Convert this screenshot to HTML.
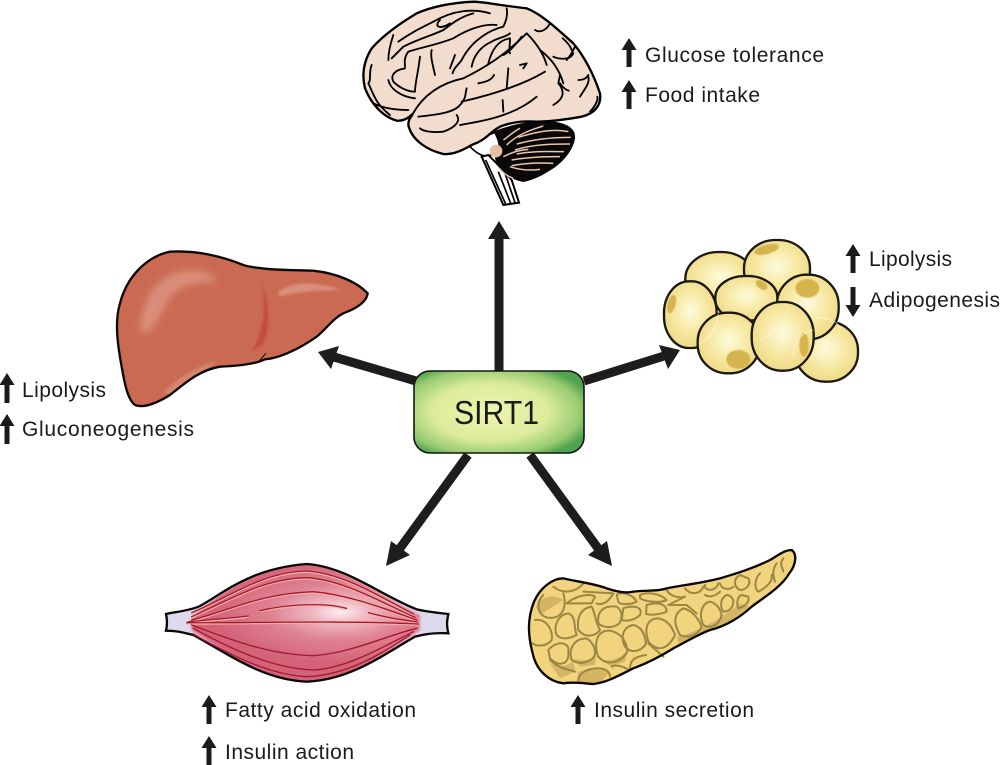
<!DOCTYPE html>
<html><head><meta charset="utf-8"><style>
html,body{margin:0;padding:0;background:#fff}
svg{display:block}
text{font-family:"Liberation Sans",sans-serif;fill:#1c1a1a}
</style></head><body>
<svg width="1000" height="765" viewBox="0 0 1000 765" xmlns="http://www.w3.org/2000/svg">
<defs>
<filter id="b2" x="-40%" y="-40%" width="180%" height="180%"><feGaussianBlur stdDeviation="1.500"/></filter>
<filter id="b3" x="-40%" y="-40%" width="180%" height="180%"><feGaussianBlur stdDeviation="4"/></filter>
<filter id="b8" x="-40%" y="-40%" width="180%" height="180%"><feGaussianBlur stdDeviation="11"/></filter>
<radialGradient id="box" cx=".45" cy=".5" r=".62">
<stop offset="0" stop-color="#eef5ae"/><stop offset=".55" stop-color="#dcec9b"/><stop offset=".85" stop-color="#98cb72"/><stop offset="1" stop-color="#4fa250"/>
</radialGradient>
<radialGradient id="fat" cx=".5" cy=".45" r=".62">
<stop offset="0" stop-color="#fdfbdc"/><stop offset=".55" stop-color="#f6e79e"/><stop offset="1" stop-color="#ebd682"/>
</radialGradient>
<radialGradient id="musc" gradientUnits="userSpaceOnUse" cx="570" cy="215" r="380" gradientTransform="translate(0 130) scale(1 .4)">
<stop offset="0" stop-color="#fdf0f2"/><stop offset=".2" stop-color="#f0bcc5"/><stop offset=".55" stop-color="#df8292"/><stop offset="1" stop-color="#d4637a"/>
</radialGradient>
<clipPath id="lc"><path id="lp" d="M105,495 C85,480 75,440 65,380 C50,300 45,240 60,190 C80,110 140,50 210,35 C290,30 370,50 430,75 C480,90 560,90 640,92 C710,100 770,125 803,160 C800,185 770,205 730,220 C700,235 680,265 650,290 C600,325 540,355 495,358 C470,370 420,378 360,380 C300,390 260,425 210,465 C170,490 130,505 105,495Z"/></clipPath>
<clipPath id="pc"><path id="pp" d="M130,430 C90,425 50,395 38,340 C25,290 20,240 42,185 C62,140 100,115 130,115 C170,125 220,130 260,145 C290,155 320,160 340,155 C380,150 410,155 440,145 C490,135 540,130 600,115 C650,100 700,85 750,60 C775,45 795,30 815,30 C832,42 828,75 808,100 C785,140 735,170 695,200 C665,228 620,258 570,270 C530,285 500,305 460,325 C420,350 380,370 340,385 C300,405 260,428 220,432 C190,430 160,425 130,430Z"/></clipPath>
<clipPath id="mc"><path id="mp" d="M48,222 C80,215 120,212 150,198 C220,160 300,85 470,72 C590,80 690,165 800,208 C830,215 860,218 895,222 C890,245 890,260 895,280 C860,278 830,280 795,290 C700,345 600,420 470,425 C340,420 240,345 130,285 C100,278 80,272 48,272 C52,255 52,240 48,222Z"/></clipPath>
</defs>

<!-- connectors -->
<g stroke="#1e1c1c" stroke-width="9" fill="none">
<line x1="499" y1="372" x2="499" y2="236"/>
<line x1="416" y1="381" x2="334" y2="357"/>
<line x1="584" y1="381" x2="664" y2="356"/>
<line x1="468" y1="455" x2="398" y2="551"/>
<line x1="530" y1="455" x2="600" y2="551"/>
</g>
<g fill="#1e1c1c">
<polygon points="499,221 510,239 488,239"/>
<polygon points="318,352 339,346 331,369"/>
<polygon points="680,350 668,369 659,345"/>
<polygon points="386,566 391,541 410,555"/>
<polygon points="612,566 588,555 607,541"/>
</g>

<!-- SIRT1 -->
<rect x="414" y="371" width="170" height="82" rx="16" fill="url(#box)" stroke="#14160f" stroke-width="1.600"/>
<text x="454" y="424" font-size="33" textLength="85" lengthAdjust="spacingAndGlyphs">SIRT1</text>

<!-- brain -->
<g transform="translate(340,0) scale(.33333)">
<path d="M390,440 C410,460 425,468 445,470 L490,440 L470,395 L420,415Z" fill="#fff" stroke="#000" stroke-width="5"/>
<path d="M425,470 L490,615 L537,608 L515,540 L470,490 L445,465Z" fill="#fff" stroke="#000" stroke-width="6"/>
<path d="M437,480 L497,612 M475,515 L512,610 M495,520 L525,608" stroke="#000" stroke-width="5" fill="none"/>
<path d="M460,395 C520,370 590,358 640,365 C680,370 708,385 705,415 C700,450 670,485 640,505 C610,525 580,540 550,546 C520,540 495,525 488,515 C475,500 465,485 465,470 C480,450 480,430 460,395Z" fill="#090707"/>
<g stroke="#e6c6ae" stroke-width="4.500" fill="none">
<path d="M500,435 C530,405 570,390 610,378"/><path d="M535,412 C590,395 640,385 685,395"/><path d="M530,432 C580,418 640,412 692,412"/><path d="M525,450 C580,432 640,432 690,432"/><path d="M530,462 C580,452 630,455 672,455"/><path d="M515,480 C570,470 620,470 660,470"/><path d="M515,497 C565,488 600,488 640,490"/><path d="M510,500 C540,510 570,512 600,508"/><path d="M490,470 C520,455 540,450 565,448"/><path d="M478,505 C490,520 505,530 520,535"/><path d="M490,420 C505,410 520,395 540,385"/>
</g>
<circle cx="468" cy="453" r="19" fill="#e6bfa5"/>
<path d="M205,375 C205,358 212,352 218,342 C205,355 190,364 170,362 C130,350 95,315 75,265 C65,225 70,185 95,145 C130,105 180,70 230,40 C280,18 340,8 400,5 C430,5 470,15 560,25 C610,45 660,95 700,130 C730,165 760,220 780,280 C785,315 765,340 725,350 C680,358 630,365 590,365 C550,362 510,368 480,380 C450,395 440,420 395,435 C370,450 340,465 310,462 C260,450 215,420 205,375Z" fill="#f1dccd" stroke="#000" stroke-width="7" stroke-linejoin="round"/>
<g stroke="#000" stroke-width="5.500" fill="none" stroke-linecap="round" stroke-linejoin="round">
<path d="M218,342 C250,285 300,250 370,235 C430,205 490,170 560,100 C590,130 610,160 620,195"/>
<path d="M235,350 C280,345 340,340 360,315 C380,295 375,280 380,265"/>
<path d="M350,345 C365,365 340,385 310,395 C280,398 250,395 240,385"/>
<path d="M360,375 C420,365 520,350 590,290"/>
<path d="M365,305 C430,290 540,260 615,215"/>
<path d="M488,300 L490,335"/><path d="M505,205 L500,265"/><path d="M415,250 C440,245 455,240 462,225"/>
<path d="M640,315 C665,300 680,280 655,250 L660,225"/><path d="M660,250 C670,265 680,270 686,272"/>
<path d="M600,150 C640,180 660,215 670,250"/><path d="M680,180 C690,170 700,150 705,140"/><path d="M640,170 C650,175 690,185 700,160"/>
<path d="M630,70 C620,90 600,100 585,90"/><path d="M668,115 C680,125 690,135 695,150"/>
<path d="M720,290 C735,265 750,250 745,230"/><path d="M715,240 C730,240 740,235 745,225"/><path d="M750,335 C765,320 775,300 772,290"/>
<path d="M500,25 C505,50 495,70 490,80 C450,90 395,120 365,180 C355,195 340,205 338,220"/>
<path d="M395,200 C400,170 420,140 455,125 C470,115 500,110 510,100"/>
<path d="M445,190 C455,150 475,120 510,115 C510,140 505,155 510,160"/>
<path d="M545,110 C530,130 510,155 490,165"/>
<path d="M540,195 L560,190 L550,205"/>
<path d="M450,40 C400,25 340,30 280,65 C240,85 210,100 175,125"/>
<path d="M400,40 C360,50 330,75 310,90 C280,105 240,115 190,140 L155,175"/>
<path d="M470,75 C430,70 380,90 340,115 C290,135 250,140 205,155 C190,175 195,190 195,200"/>
<path d="M285,225 C280,200 270,170 275,150"/>
<path d="M240,170 C235,215 225,250 225,275 C200,275 175,260 160,245 C150,225 165,210 195,205"/>
<path d="M145,240 C150,265 180,290 225,295"/>
<path d="M160,105 C150,135 145,160 145,180"/>
<path d="M95,195 C85,220 95,240 85,250 C100,280 105,310 150,345"/>
<path d="M100,310 C130,325 170,330 205,330"/>
<path d="M345,165 L330,205"/>
<path d="M300,60 C280,80 300,90 330,70"/>
</g>
</g>

<!-- fat cells -->
<g transform="translate(650,230) scale(.33333)" fill="url(#fat)" stroke="#1a1a12" stroke-width="7">
<rect x="436" y="275" width="188" height="180" rx="90" ry="86"/>
<rect x="106" y="66" width="208" height="168" rx="100" ry="80"/>
<rect x="282" y="30" width="198" height="176" rx="95" ry="84"/>
<rect x="42" y="154" width="158" height="200" rx="75" ry="95"/>
<rect x="380" y="134" width="186" height="194" rx="89" ry="92"/>
<rect x="196" y="138" width="186" height="134" rx="89" ry="64"/>
<rect x="143" y="248" width="186" height="182" rx="89" ry="87"/>
<rect x="305" y="216" width="186" height="206" rx="89" ry="98"/>
<g stroke="none" fill="#d5b34e" filter="url(#b2)">
<ellipse cx="350" cy="58" rx="38" ry="14" transform="rotate(-15 350 58)"/>
<ellipse cx="472" cy="175" rx="36" ry="28"/>
<ellipse cx="265" cy="388" rx="36" ry="28"/>
<ellipse cx="65" cy="222" rx="12" ry="28" transform="rotate(15 65 222)"/>
<ellipse cx="462" cy="345" rx="14" ry="36"/>
<ellipse cx="335" cy="165" rx="20" ry="12" transform="rotate(35 335 165)"/>
</g>
<g stroke="#fff" stroke-width="2" fill="none" opacity=".8">
<path d="M430,380 C430,340 450,310 490,300"/>
<path d="M500,265 C530,260 560,275 570,290"/>
<path d="M205,250 C200,290 180,330 150,340"/>
<path d="M330,330 C360,310 390,300 400,270"/>
</g>
</g>

<!-- liver -->
<g transform="translate(100,240) scale(.33333)">
<use href="#lp" fill="#cb6a52"/>
<g clip-path="url(#lc)">
<path d="M120,270 C125,180 170,110 240,95 C300,85 340,100 350,125 C280,125 220,140 200,190 C170,250 140,300 120,270Z" fill="#da8f7a" filter="url(#b8)"/>
<path d="M535,155 C580,120 660,125 725,150 C660,150 590,155 535,170Z" fill="#d98f7a" filter="url(#b3)"/>
<path d="M485,130 C510,190 510,260 490,310 L455,335 C490,280 500,210 485,130Z" fill="#c24c3c" filter="url(#b3)"/>
<path d="M190,455 C240,410 290,380 350,362 L300,410 L220,470Z" fill="#d6866f" filter="url(#b3)"/>
</g>
<use href="#lp" fill="none" stroke="#0c0806" stroke-width="7"/>
<path d="M480,360 L498,340" stroke="#0c0806" stroke-width="3" fill="none"/>
</g>

<!-- muscle -->
<g transform="translate(150,540) scale(.33333)">
<use href="#mp" fill="#dedaee"/>
<g clip-path="url(#mc)">
<path d="M125,235 C220,150 320,80 470,70 C590,80 690,165 810,225 L810,270 C700,345 600,425 470,428 C340,425 240,345 125,270Z" fill="url(#musc)" filter="url(#b3)"/>
</g>
<use href="#mp" fill="none" stroke="#0a0808" stroke-width="7"/>
<g stroke="#f7b3a8" stroke-width="5" fill="none" transform="translate(0,3)">
<path d="M125,218 C240,170 340,95 470,93 C580,100 690,170 790,222"/>
<path d="M125,230 C240,180 340,115 470,113 C580,120 690,185 795,232"/>
<path d="M125,240 C230,215 330,160 490,155 C600,165 700,205 800,240"/>
<path d="M115,245 C170,240 240,235 295,228"/>
<path d="M330,212 C400,195 520,185 590,205"/>
<path d="M655,218 C700,230 750,240 800,245"/>
<path d="M110,248 C300,250 550,240 805,252"/>
</g>
<g stroke="#a3192e" stroke-width="4" fill="none" stroke-linecap="round">
<path d="M125,218 C240,170 340,95 470,93 C580,100 690,170 790,222"/>
<path d="M125,230 C240,180 340,115 470,113 C580,120 690,185 795,232"/>
<path d="M125,240 C230,215 330,160 490,155 C600,165 700,205 800,240"/>
<path d="M115,245 C170,240 240,235 295,228"/>
<path d="M330,212 C400,195 520,185 590,205"/>
<path d="M655,218 C700,230 750,240 800,245"/>
<path d="M110,248 C300,250 550,240 805,252"/>
<path d="M125,255 C220,290 350,345 490,347 C600,340 700,290 800,265"/>
<path d="M130,265 C230,320 360,385 490,390 C590,385 700,320 790,275"/>
<path d="M130,282 C240,345 360,405 470,410 C590,405 690,345 780,285"/>
</g>
</g>

<!-- pancreas -->
<g transform="translate(520,540) scale(.33333)">
<use href="#pp" fill="#f3d47e"/>
<g clip-path="url(#pc)">
<g fill="#d6b466">
<path d="M48,200 C60,170 100,160 130,180 L60,225Z"/>
<path d="M90,370 C120,385 145,375 160,365 L165,395 L120,415Z"/>
<path d="M175,395 C210,385 250,390 270,395 L240,430 L170,425Z"/>
<path d="M240,355 C270,370 310,350 322,330 L315,365 L270,378Z"/>
<path d="M160,355 C180,365 215,360 228,345 L225,375 L180,380Z"/>
<path d="M470,290 C520,280 600,240 660,190 L690,200 L600,265 L480,320Z"/>
</g>
</g>
<g stroke="#9b8644" stroke-width="6" fill="none" stroke-linejoin="round" stroke-linecap="round">
<path d="M100,140 C130,165 170,155 190,130"/>
<path d="M130,160 C145,215 115,240 80,232 C55,225 45,190 70,165"/>
<path d="M45,240 C75,235 100,265 95,300 C80,320 50,320 38,310"/>
<path d="M145,220 C110,225 100,265 110,285 C130,305 160,290 170,285 C160,260 170,230 145,220Z"/>
<path d="M215,200 C180,205 170,235 175,270 C195,295 225,290 240,270 C225,245 225,215 215,200Z"/>
<path d="M290,200 C250,195 230,215 235,250 C250,265 280,265 298,250 C310,230 305,210 290,200Z"/>
<path d="M140,190 C170,165 210,160 225,170 L215,190 C190,190 160,190 140,190"/>
<path d="M190,155 L280,160 C260,195 240,195 230,190"/>
<path d="M290,165 C310,150 345,170 350,185 C330,195 300,195 295,185Z"/>
<path d="M310,205 C340,195 370,200 360,225 C345,240 320,245 305,240Z"/>
<path d="M360,165 C380,155 420,160 440,180 C420,190 375,185 360,175Z"/>
<path d="M380,195 C410,185 440,190 440,215 C420,225 390,225 378,222Z"/>
<path d="M85,330 C110,300 150,305 145,335 C150,370 120,385 90,355Z"/>
<path d="M200,295 C160,295 145,330 155,360 C185,380 225,360 225,340 C225,320 215,305 200,295Z"/>
<path d="M270,272 C230,270 220,310 235,350 C265,385 310,360 322,335 C320,305 305,280 270,272Z"/>
<path d="M340,255 C310,260 300,290 315,320 C335,345 370,330 378,310 C375,285 365,260 340,255Z"/>
<path d="M410,235 C375,240 375,275 385,305 C415,340 445,325 465,285 C455,255 435,235 410,235Z"/>
<path d="M490,205 C460,220 460,250 480,285 C510,300 540,275 545,260 C535,235 515,210 490,205Z"/>
<path d="M570,185 C545,190 535,225 550,255 C575,270 600,250 605,225 C600,205 590,190 570,185Z"/>
<path d="M620,165 C600,175 600,200 610,215 C630,215 640,200 640,185 C640,175 630,165 620,165Z"/>
<path d="M665,165 C650,170 650,195 655,205 C675,200 690,185 685,170Z"/>
<path d="M660,105 C640,115 640,140 660,150 C680,150 695,130 685,115Z"/>
<path d="M600,130 C605,150 630,150 640,140 M720,100 C700,120 705,150 715,155 C735,145 760,125 755,105"/>
<path d="M495,145 C510,165 540,165 550,140 M555,135 C550,155 590,155 595,130"/>
<path d="M440,150 C450,170 480,175 495,170 L445,195 L500,195 L530,220"/>
<path d="M555,165 C570,175 590,165 600,155 M790,55 C775,75 790,85 790,95 M770,70 C755,90 760,110 765,125"/>
<path d="M330,385 C330,360 345,350 378,345 M385,310 L430,350 M175,420 C180,395 205,385 235,385 C255,385 270,395 270,410 M90,360 C115,385 150,390 165,395 M275,380 C290,370 320,385 325,390"/>
</g>
<use href="#pp" fill="none" stroke="#0a0806" stroke-width="7" stroke-linejoin="round"/>
</g>

<!-- small indicator arrows -->
<g fill="#1c1a1a">
<path d="M629,38 L636.500,50 L631.500,50 L631.500,67 L626.500,67 L626.500,50 L621.500,50Z"/>
<path d="M629,80 L636.500,92 L631.500,92 L631.500,109 L626.500,109 L626.500,92 L621.500,92Z"/>
<path d="M853,244 L860.500,256 L855.500,256 L855.500,273 L850.500,273 L850.500,256 L845.500,256Z"/>
<path d="M853,317 L860.500,305 L855.500,305 L855.500,287 L850.500,287 L850.500,305 L845.500,305Z"/>
<path d="M7,373 L14.500,385 L9.500,385 L9.500,403 L4.500,403 L4.500,385 L-.5,385Z"/>
<path d="M7,414 L14.500,426 L9.500,426 L9.500,444 L4.500,444 L4.500,426 L-.5,426Z"/>
<path d="M209,695 L216.500,707 L211.500,707 L211.500,724 L206.500,724 L206.500,707 L201.500,707Z"/>
<path d="M209,736 L216.500,748 L211.500,748 L211.500,765 L206.500,765 L206.500,748 L201.500,748Z"/>
<path d="M578,695 L585.500,707 L580.500,707 L580.500,724 L575.500,724 L575.500,707 L570.500,707Z"/>
</g>

<!-- labels -->
<g font-size="21">
<text x="645" y="62" textLength="179" lengthAdjust="spacing">Glucose tolerance</text>
<text x="645" y="102" textLength="115" lengthAdjust="spacing">Food intake</text>
<text x="869" y="266" textLength="83" lengthAdjust="spacing">Lipolysis</text>
<text x="869" y="307" textLength="131" lengthAdjust="spacing">Adipogenesis</text>
<text x="22" y="397" textLength="84" lengthAdjust="spacing">Lipolysis</text>
<text x="22" y="436" textLength="172" lengthAdjust="spacing">Gluconeogenesis</text>
<text x="225" y="717" textLength="191" lengthAdjust="spacing">Fatty acid oxidation</text>
<text x="225" y="759" textLength="129" lengthAdjust="spacing">Insulin action</text>
<text x="594" y="717" textLength="160" lengthAdjust="spacing">Insulin secretion</text>
</g>
</svg>
</body></html>
